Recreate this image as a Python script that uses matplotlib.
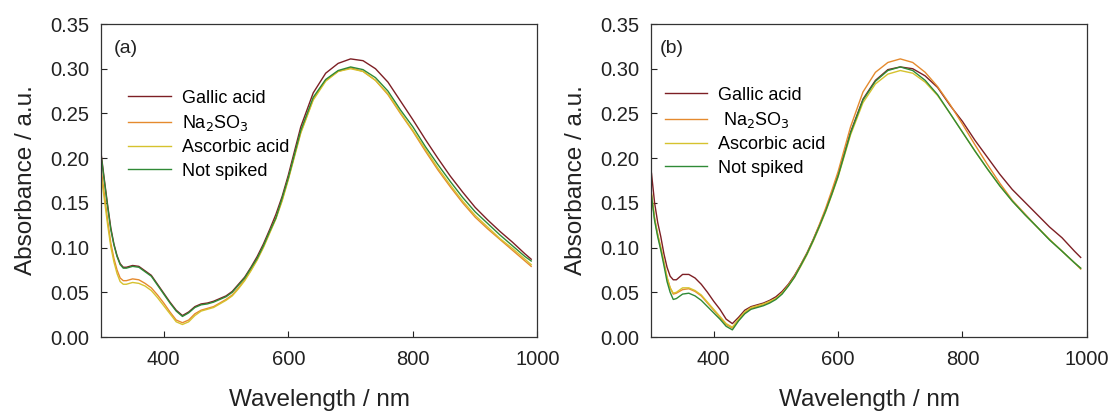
import matplotlib.pyplot as plt
from matplotlib.ticker import FormatStrFormatter

plt.rcParams['font.family'] = ['Liberation Sans', 'DejaVu Sans']

# ── DATA ─────────────────────────────────────────────────────────────────────
wavelength = [300, 305, 310, 315, 320, 325, 330, 335, 340,
              350, 360, 370, 380, 390, 400, 410, 420, 430, 440, 450, 460, 470, 480,
              490, 500, 510, 520, 530, 540, 550, 560, 570, 580, 590, 600,
              620, 640, 660, 680, 700, 720, 740, 760, 780, 800, 820, 840, 860, 880,
              900, 920, 940, 960, 980, 990]

series_labels_a = ['Gallic acid', 'Na$_2$SO$_3$', 'Ascorbic acid', 'Not spiked']
series_labels_b = ['Gallic acid', ' Na$_2$SO$_3$', 'Ascorbic acid', 'Not spiked']

# panel (a)
gallic_a = [0.202, 0.174, 0.147, 0.122, 0.104, 0.091, 0.082, 0.078, 0.078,
            0.080, 0.079, 0.074, 0.069, 0.059, 0.049, 0.039, 0.030, 0.024, 0.028, 0.034, 0.037, 0.038, 0.040,
            0.043, 0.046, 0.051, 0.059, 0.067, 0.078, 0.090, 0.104, 0.120, 0.137, 0.157, 0.181,
            0.235, 0.273, 0.295, 0.306, 0.311, 0.309, 0.300, 0.285, 0.264, 0.243, 0.221, 0.200, 0.180, 0.162,
            0.145, 0.131, 0.118, 0.106, 0.093, 0.087]
na2so3_a = [0.185, 0.158, 0.130, 0.105, 0.088, 0.075, 0.066, 0.063, 0.063,
            0.065, 0.064, 0.060, 0.055, 0.047, 0.038, 0.028, 0.019, 0.016, 0.019, 0.026, 0.030, 0.032, 0.034,
            0.038, 0.042, 0.047, 0.055, 0.064, 0.075, 0.087, 0.101, 0.117, 0.133, 0.153, 0.177,
            0.229, 0.266, 0.287, 0.297, 0.301, 0.297, 0.287, 0.271, 0.250, 0.230, 0.208, 0.187, 0.168, 0.150,
            0.134, 0.121, 0.109, 0.097, 0.085, 0.079]
ascorbic_a = [0.178, 0.152, 0.125, 0.101, 0.084, 0.071, 0.062, 0.059, 0.059,
              0.061, 0.060, 0.057, 0.052, 0.044, 0.035, 0.026, 0.017, 0.014, 0.017, 0.024, 0.029, 0.031, 0.033,
              0.037, 0.041, 0.046, 0.054, 0.063, 0.074, 0.086, 0.100, 0.116, 0.132, 0.152, 0.176,
              0.228, 0.265, 0.286, 0.297, 0.300, 0.297, 0.287, 0.272, 0.251, 0.231, 0.210, 0.189, 0.170, 0.152,
              0.136, 0.123, 0.110, 0.099, 0.087, 0.081]
notspiked_a = [0.200, 0.172, 0.145, 0.120, 0.103, 0.090, 0.081, 0.077, 0.077,
               0.079, 0.078, 0.073, 0.068, 0.058, 0.048, 0.038, 0.029, 0.023, 0.027, 0.033, 0.036, 0.037, 0.039,
               0.042, 0.045, 0.050, 0.058, 0.066, 0.077, 0.088, 0.102, 0.118, 0.133, 0.155, 0.178,
               0.231, 0.268, 0.288, 0.298, 0.302, 0.299, 0.290, 0.275, 0.254, 0.235, 0.213, 0.193, 0.174, 0.156,
               0.140, 0.127, 0.114, 0.102, 0.090, 0.085]

# panel (b)
gallic_b = [0.183, 0.150, 0.128, 0.112, 0.093, 0.078, 0.068, 0.064, 0.064,
            0.070, 0.070, 0.066, 0.059, 0.050, 0.040, 0.031, 0.020, 0.015, 0.022, 0.030, 0.034, 0.036, 0.038,
            0.041, 0.045, 0.051, 0.059, 0.069, 0.081, 0.094, 0.109, 0.125, 0.142, 0.161, 0.181,
            0.229, 0.266, 0.287, 0.299, 0.302, 0.300, 0.292, 0.279, 0.259, 0.241, 0.220, 0.201, 0.182, 0.165,
            0.151, 0.137, 0.123, 0.111, 0.096, 0.089]
na2so3_b = [0.160, 0.133, 0.115, 0.100, 0.084, 0.067, 0.055, 0.048, 0.049,
            0.053, 0.054, 0.051, 0.046, 0.038, 0.030, 0.022, 0.014, 0.010, 0.019, 0.027, 0.032, 0.034, 0.036,
            0.039, 0.043, 0.049, 0.058, 0.068, 0.081, 0.094, 0.109, 0.126, 0.144, 0.164, 0.185,
            0.235, 0.274, 0.296, 0.307, 0.311, 0.307, 0.296, 0.280, 0.260, 0.238, 0.215, 0.193, 0.172, 0.153,
            0.138, 0.123, 0.109, 0.096, 0.083, 0.076]
ascorbic_b = [0.160, 0.132, 0.114, 0.099, 0.083, 0.066, 0.055, 0.049, 0.050,
              0.055, 0.055, 0.052, 0.047, 0.039, 0.031, 0.023, 0.015, 0.011, 0.020, 0.028, 0.033, 0.035, 0.037,
              0.040, 0.043, 0.049, 0.057, 0.067, 0.079, 0.092, 0.107, 0.123, 0.140, 0.159, 0.179,
              0.226, 0.262, 0.283, 0.294, 0.298, 0.295, 0.285, 0.270, 0.250, 0.229, 0.208, 0.188, 0.169, 0.152,
              0.137, 0.123, 0.109, 0.096, 0.083, 0.077]
notspiked_b = [0.158, 0.130, 0.112, 0.097, 0.080, 0.062, 0.050, 0.042, 0.043,
               0.048, 0.049, 0.046, 0.041, 0.034, 0.027, 0.020, 0.012, 0.008, 0.018, 0.026, 0.031, 0.033, 0.035,
               0.038, 0.042, 0.048, 0.057, 0.067, 0.080, 0.093, 0.108, 0.124, 0.141, 0.160, 0.180,
               0.228, 0.265, 0.286, 0.298, 0.302, 0.298, 0.287, 0.271, 0.250, 0.229, 0.208, 0.188, 0.169, 0.152,
               0.137, 0.123, 0.1085, 0.096, 0.083, 0.077]

x_ticks = [400, 600, 800, 1000]
y_ticks = [0.00, 0.05, 0.10, 0.15, 0.20, 0.25, 0.30, 0.35]

# ── STYLE ────────────────────────────────────────────────────────────────────
colors = ['#7d1f24', '#e58a2e', '#d6c22e', '#2f8a36']

panels = [
    ('(a)', [gallic_a, na2so3_a, ascorbic_a, notspiked_a], series_labels_a,
     [0.0910, 0.1918, 0.391, 0.7506], (0.062, 0.79), 0.028),
    ('(b)', [gallic_b, na2so3_b, ascorbic_b, notspiked_b], series_labels_b,
     [0.5843, 0.1918, 0.3905, 0.7506], (0.030, 0.80), 0.019),
]

fig = plt.figure(figsize=(11.15, 4.17), dpi=100)

for tag, series, labels, rect, leg_pos, tag_x in panels:
    ax = fig.add_axes(rect)
    for vals, lab, col in zip(series, labels, colors):
        ax.plot(wavelength, vals, color=col, linewidth=1.0, label=lab)

    ax.set_xlim(300, 1000)
    ax.set_ylim(0, 0.35)
    ax.set_xticks(x_ticks)
    ax.set_yticks(y_ticks)
    ax.yaxis.set_major_formatter(FormatStrFormatter('%.2f'))
    ax.tick_params(direction='in', length=4, width=0.8, labelsize=14.5, pad=9,
                   colors='#222222')
    for sp in ax.spines.values():
        sp.set_linewidth(0.9)
        sp.set_color('#333333')

    ax.set_xlabel('Wavelength / nm', fontsize=17.5, labelpad=15, color='#222222')
    ax.set_ylabel('Absorbance / a.u.', fontsize=17.5, labelpad=9, color='#222222')

    ax.text(tag_x, 0.923, tag, transform=ax.transAxes, fontsize=14,
            ha='left', va='center', color='#222222')

    ax.legend(loc='upper left', bbox_to_anchor=leg_pos, frameon=False,
              fontsize=13, handlelength=2.35, handletextpad=0.6,
              labelspacing=0.35, borderpad=0, borderaxespad=0)

fig.savefig('out.png', dpi=100)
